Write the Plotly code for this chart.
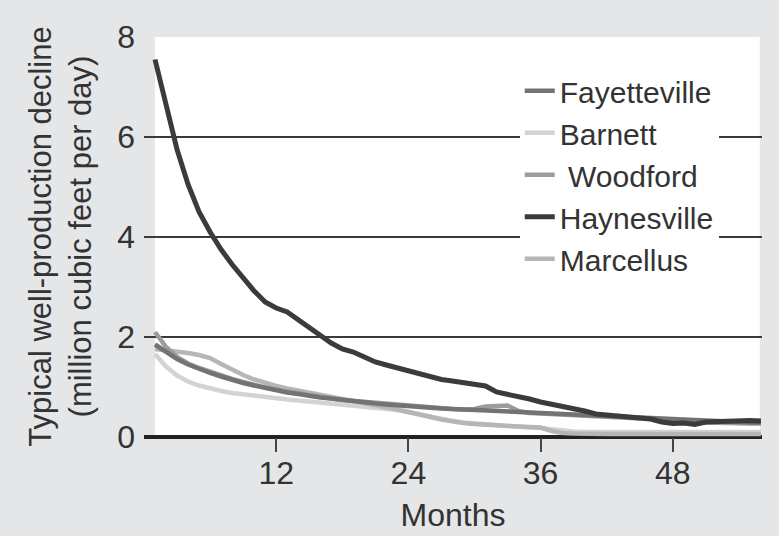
import plotly.graph_objects as go

months = list(range(1, 57))

haynesville = [7.55, 6.6, 5.75, 5.05, 4.5, 4.1, 3.75, 3.45, 3.18, 2.92,
               2.7, 2.58, 2.5, 2.35, 2.18, 2.02, 1.88, 1.76, 1.7, 1.6,
               1.5, 1.44, 1.38, 1.34, 1.28, 1.2, 1.15, 1.12, 1.08, 1.05,
               1.02, 0.9, 0.86, 0.82, 0.76, 0.7, 0.66, 0.62, 0.58, 0.52,
               0.46, 0.44, 0.42, 0.4, 0.38, 0.36, 0.3, 0.27, 0.28, 0.25,
               0.3, 0.31, 0.32, 0.32, 0.33, 0.32]

fayetteville = [1.85, 1.7, 1.56, 1.45, 1.36, 1.28, 1.21, 1.14, 1.08, 1.03,
                0.98, 0.93, 0.89, 0.86, 0.82, 0.79, 0.77, 0.74, 0.71, 0.69,
                0.67, 0.65, 0.63, 0.61, 0.6, 0.58, 0.57, 0.56, 0.55, 0.54,
                0.52, 0.51, 0.5, 0.48, 0.47, 0.46, 0.45, 0.44, 0.43, 0.42,
                0.41, 0.4, 0.39, 0.38, 0.37, 0.36, 0.35, 0.34, 0.33, 0.32,
                0.32, 0.31, 0.3, 0.3, 0.29, 0.29]

woodford = [2.1, 1.8, 1.6, 1.47, 1.38, 1.3, 1.22, 1.16, 1.1, 1.04,
            0.99, 0.95, 0.91, 0.87, 0.83, 0.8, 0.77, 0.74, 0.72, 0.7,
            0.68, 0.66, 0.64, 0.62, 0.6, 0.58, 0.57, 0.56, 0.55, 0.56,
            0.61, 0.62, 0.63, 0.52, 0.48, 0.47, 0.46, 0.46, 0.45, 0.44,
            0.43, 0.42, 0.41, 0.4, 0.38, 0.36, 0.34, 0.32, 0.31, 0.3,
            0.29, 0.28, 0.28, 0.27, 0.27, 0.27]

marcellus = [1.76, 1.74, 1.71, 1.68, 1.64, 1.58, 1.46, 1.34, 1.24, 1.15,
             1.08, 1.02, 0.97, 0.93, 0.88, 0.84, 0.8, 0.76, 0.72, 0.68,
             0.64, 0.6, 0.55, 0.5, 0.44, 0.4, 0.35, 0.31, 0.28, 0.26,
             0.24, 0.23, 0.22, 0.21, 0.2, 0.19, 0.12, 0.08, 0.07, 0.06,
             0.06, 0.06, 0.06, 0.06, 0.06, 0.06, 0.06, 0.06, 0.06, 0.06,
             0.06, 0.06, 0.06, 0.06, 0.06, 0.06]

barnett = [1.66, 1.41, 1.23, 1.11, 1.03, 0.97, 0.92, 0.88, 0.85, 0.82,
           0.79, 0.77, 0.75, 0.73, 0.71, 0.69, 0.67, 0.65, 0.63, 0.61,
           0.59, 0.57, 0.54, 0.5, 0.45, 0.4, 0.36, 0.32, 0.29, 0.27,
           0.25, 0.23, 0.21, 0.2, 0.19, 0.18, 0.15, 0.12, 0.11, 0.1,
           0.1, 0.1, 0.1, 0.1, 0.1, 0.1, 0.1, 0.1, 0.1, 0.1,
           0.1, 0.1, 0.1, 0.1, 0.1, 0.1]

x_ticks = [12, 24, 36, 48]
y_ticks = [0, 2, 4, 6, 8]

FONT = "Liberation Sans, Arial, sans-serif"
TEXT = "#333333"
BG = "#e5e6e7"

# (name, values, color, width, legend rank) in drawing order
series = [
    ("Barnett", barnett, "#d3d3d3", 4.5, 2),
    ("Marcellus", marcellus, "#b6b6b6", 4.5, 5),
    ("\u00a0Woodford", woodford, "#9c9c9c", 4.5, 3),
    ("Fayetteville", fayetteville, "#737373", 4.5, 1),
    ("Haynesville", haynesville, "#3b3b3b", 5, 4),
]

fig = go.Figure()
for name, vals, color, w, rank in series:
    fig.add_trace(go.Scatter(
        x=months, y=vals, mode="lines", name=name,
        line=dict(color=color, width=w), legendrank=rank,
    ))

# white plotting panel (starts at month 1 like the original)
fig.add_shape(type="rect", xref="x", yref="y", x0=1, x1=55.9, y0=0, y1=8,
              fillcolor="white", line=dict(width=0), layer="below")

fig.update_layout(
    width=779, height=536,
    margin=dict(l=144, r=17, t=36, b=99),
    paper_bgcolor=BG, plot_bgcolor=BG,
    font=dict(family=FONT, color=TEXT, size=30),
    showlegend=True,
    legend=dict(
        x=0.608, y=0.928, xanchor="left", yanchor="top",
        bgcolor="white", borderwidth=0,
        font=dict(family=FONT, size=30, color=TEXT),
        itemwidth=30, tracegroupgap=0,
    ),
    xaxis=dict(
        range=[0, 56.1], tickvals=x_ticks, ticktext=[str(v) for v in x_ticks],
        showgrid=False, zeroline=False, showline=False, automargin=False,
        ticks="outside", ticklen=14, tickwidth=2, tickcolor="#444444",
        ticklabelstandoff=-6,
        tickfont=dict(size=32, family=FONT, color=TEXT),
        title=dict(text="Months", font=dict(size=32, family=FONT, color=TEXT), standoff=13),
    ),
    yaxis=dict(
        range=[0, 8.02], tickvals=y_ticks, ticktext=[str(v) for v in y_ticks],
        showgrid=True, gridcolor="#3a3a3a", gridwidth=2, automargin=False,
        zeroline=True, zerolinecolor="#222222", zerolinewidth=4,
        showline=False, ticks="", ticklabelstandoff=8,
        tickfont=dict(size=32, family=FONT, color=TEXT),
        title=dict(text="Typical well-production decline<br>(million cubic feet per day)",
                   font=dict(size=31, family=FONT, color=TEXT), standoff=16),
    ),
)

fig.write_html("out.html", config={"displayModeBar": False},
               post_script="document.body.style.margin='0';document.body.style.overflow='hidden';")
